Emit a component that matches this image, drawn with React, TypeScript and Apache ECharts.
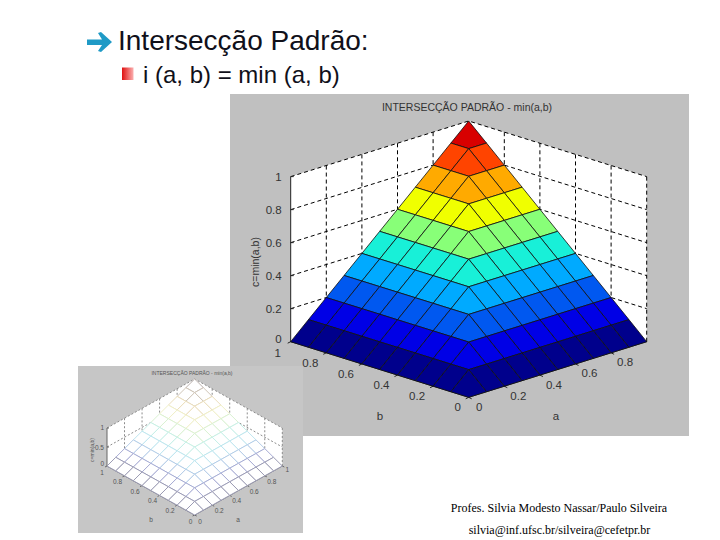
import React, { useEffect, useRef } from "react";
import * as echarts from "echarts";

const gridValues = [0, 0.1, 0.2, 0.3, 0.4, 0.5, 0.6, 0.7, 0.8, 0.9, 1];
const surfaceZ = [
  [0, 0, 0, 0, 0, 0, 0, 0, 0, 0, 0],
  [0, 0.1, 0.1, 0.1, 0.1, 0.1, 0.1, 0.1, 0.1, 0.1, 0.1],
  [0, 0.1, 0.2, 0.2, 0.2, 0.2, 0.2, 0.2, 0.2, 0.2, 0.2],
  [0, 0.1, 0.2, 0.3, 0.3, 0.3, 0.3, 0.3, 0.3, 0.3, 0.3],
  [0, 0.1, 0.2, 0.3, 0.4, 0.4, 0.4, 0.4, 0.4, 0.4, 0.4],
  [0, 0.1, 0.2, 0.3, 0.4, 0.5, 0.5, 0.5, 0.5, 0.5, 0.5],
  [0, 0.1, 0.2, 0.3, 0.4, 0.5, 0.6, 0.6, 0.6, 0.6, 0.6],
  [0, 0.1, 0.2, 0.3, 0.4, 0.5, 0.6, 0.7, 0.7, 0.7, 0.7],
  [0, 0.1, 0.2, 0.3, 0.4, 0.5, 0.6, 0.7, 0.8, 0.8, 0.8],
  [0, 0.1, 0.2, 0.3, 0.4, 0.5, 0.6, 0.7, 0.8, 0.9, 0.9],
  [0, 0.1, 0.2, 0.3, 0.4, 0.5, 0.6, 0.7, 0.8, 0.9, 1],
];
const bandColors = ["#00008c", "#0000e6", "#0058f0", "#00aaff", "#18f0d8", "#88ff78", "#f0ff00", "#ffaa00", "#ff4400", "#d80000"];
const meshColors = ["#9c9cb4", "#a8acd4", "#b4cce8", "#bee6f0", "#c6f0e8", "#daf2d2", "#f0f0c8", "#ecdfbc", "#d0c6b8", "#bcb2ae"];

const mainZTicks = [0, 0.2, 0.4, 0.6, 0.8, 1];
const mainZLabels = ["0", "0.2", "0.4", "0.6", "0.8", "1"];
const mainWallTicks = [0.2, 0.4, 0.6, 0.8];
const mainBLabels = [[1, "1"], [0.8, "0.8"], [0.6, "0.6"], [0.4, "0.4"], [0.2, "0.2"], [0, "0"]];
const mainALabels = [[0.8, "0.8"], [0.6, "0.6"], [0.4, "0.4"], [0.2, "0.2"], [0, "0"]];
const smallZTicks = [0, 0.5, 1];
const smallZLabels = ["0", "0.5", "1"];
const smallBLabels = [[1, "1"], [0.8, "0.8"], [0.6, "0.6"], [0.4, "0.4"], [0.2, "0.2"], [0, "0"]];
const smallALabels = [[1, "1"], [0.8, "0.8"], [0.6, "0.6"], [0.4, "0.4"], [0.2, "0.2"], [0, "0"]];

const plotTitle = "INTERSECÇÃO PADRÃO - min(a,b)";
const zName = "c=min(a,b)";

const MAIN_K = 0.337;
const SMALL_K = 1.289;

const cells: number[][] = [];
for (let i = 9; i >= 0; i--) for (let j = 9; j >= 0; j--) cells.push([i, j]);

function makeSurface(k: number, idx: number, z: number, mesh: boolean) {
  return {
    type: "custom",
    coordinateSystem: "cartesian2d",
    xAxisIndex: idx,
    yAxisIndex: idx,
    z,
    silent: true,
    clip: false,
    data: cells,
    renderItem: (_p: any, api: any) => {
      const i = api.value(0);
      const j = api.value(1);
      const corner = (ii: number, jj: number) => {
        const a = gridValues[ii];
        const b = gridValues[jj];
        return api.coord([a - b, (a + b) * k + surfaceZ[ii][jj]]);
      };
      const band = Math.round(surfaceZ[i][j] * 10);
      return {
        type: "polygon",
        shape: { points: [corner(i, j), corner(i + 1, j), corner(i + 1, j + 1), corner(i, j + 1)] },
        style: mesh
          ? { fill: "#ffffff", stroke: meshColors[band], lineWidth: 1 }
          : { fill: bandColors[band], stroke: "#101010", lineWidth: 1, strokeOpacity: 0.8 },
      };
    },
  };
}

function makeFrame(cfg: any) {
  const { k, idx, z } = cfg;
  return {
    type: "custom",
    coordinateSystem: "cartesian2d",
    xAxisIndex: idx,
    yAxisIndex: idx,
    z,
    silent: true,
    clip: false,
    data: [[0]],
    renderItem: (_p: any, api: any) => {
      const P = (a: number, b: number, c: number) => api.coord([a - b, (a + b) * k + c]);
      const kids: any[] = [];
      if (cfg.panel) kids.push({ type: "rect", shape: cfg.panel, style: { fill: cfg.panelFill } });
      kids.push({
        type: "polygon",
        shape: { points: [P(0, 1, 0), P(0, 1, 1), P(1, 1, 1), P(1, 0, 1), P(1, 0, 0), P(0, 0, 0)] },
        style: { fill: "#ffffff" },
      });
      const dash = { stroke: cfg.dashColor, lineWidth: cfg.dashWidth, lineDash: cfg.dash, fill: "none" };
      cfg.zTicks.forEach((t: number) => {
        kids.push({ type: "polyline", shape: { points: [P(0, 1, t), P(1, 1, t), P(1, 0, t)] }, style: dash });
      });
      cfg.wallTicks.forEach((t: number) => {
        kids.push({ type: "polyline", shape: { points: [P(t, 1, 0), P(t, 1, 1)] }, style: dash });
        kids.push({ type: "polyline", shape: { points: [P(1, t, 0), P(1, t, 1)] }, style: dash });
      });
      kids.push({ type: "polyline", shape: { points: [P(1, 0, 0), P(1, 0, 1)] }, style: dash });
      const solid = { stroke: cfg.axisColor, lineWidth: 1, fill: "none" };
      kids.push({ type: "polyline", shape: { points: [P(0, 1, 0), P(0, 1, 1)] }, style: solid });
      kids.push({ type: "polyline", shape: { points: [P(0, 1, 0), P(0, 0, 0), P(1, 0, 0)] }, style: solid });
      const text = (s: string, x: number, y: number, align = "center", font = cfg.tickFont, fill = cfg.textColor) => ({
        type: "text",
        style: { text: s, x, y, align, verticalAlign: "middle", font, fill },
      });
      cfg.zTicks.forEach((t: number, n: number) => {
        const p = P(0, 1, t);
        kids.push({ type: "polyline", shape: { points: [p, [p[0] + cfg.tickLen, p[1]]] }, style: solid });
        kids.push(text(cfg.zLabels[n], p[0] + cfg.zOffset, p[1] + (t === 0 ? cfg.zZeroDy : 0), "right"));
      });
      const offsetFor = (t: number, base: number[], zero: number[], one: number[]) => (t === 0 ? zero : t === 1 ? one : base);
      cfg.bLabels.forEach(([t, s]: any) => {
        const p = P(0, t, 0);
        const o = offsetFor(t, cfg.bOffset, cfg.bZero, cfg.bOne);
        kids.push({ type: "polyline", shape: { points: [p, [p[0] - cfg.tickLen, p[1] + cfg.tickLen / 2]] }, style: solid });
        kids.push(text(s, p[0] + o[0], p[1] + o[1]));
      });
      cfg.aLabels.forEach(([t, s]: any) => {
        const p = P(t, 0, 0);
        const o = offsetFor(t, cfg.aOffset, cfg.aZero, cfg.aOne);
        kids.push({ type: "polyline", shape: { points: [p, [p[0] + cfg.tickLen, p[1] + cfg.tickLen / 2]] }, style: solid });
        kids.push(text(s, p[0] + o[0], p[1] + o[1]));
      });
      kids.push(text(plotTitle, cfg.titlePos[0], cfg.titlePos[1], "center", cfg.titleFont));
      kids.push(text("b", cfg.bName[0], cfg.bName[1]));
      kids.push(text("a", cfg.aName[0], cfg.aName[1]));
      kids.push({
        type: "text",
        x: cfg.zNamePos[0],
        y: cfg.zNamePos[1],
        rotation: Math.PI / 2,
        style: { text: zName, x: 0, y: 0, align: "center", verticalAlign: "middle", font: cfg.zNameFont, fill: cfg.textColor },
      });
      return { type: "group", children: kids };
    },
  };
}

const mainFrameCfg = {
  k: MAIN_K, idx: 0, z: 2, zTicks: mainZTicks, zLabels: mainZLabels, wallTicks: mainWallTicks,
  bLabels: mainBLabels, aLabels: mainALabels, dash: [4, 3], dashColor: "#000000", dashWidth: 1, axisColor: "#222222",
  textColor: "#333333", tickFont: "11.5px 'Liberation Sans'", titleFont: "10.5px 'Liberation Sans'",
  zNameFont: "10.5px 'Liberation Sans'", tickLen: 3, zOffset: -9, zZeroDy: -2.5, bOffset: [-16, 10], bZero: [-11, 9.5], bOne: [-13, 11.5],
  aOffset: [14, 9.5], aZero: [10.6, 9.5], aOne: [14, 9],
  titlePos: [467, 107], bName: [380, 416], aName: [556, 416], zNamePos: [255, 262],
};
const smallFrameCfg = {
  k: SMALL_K, idx: 1, z: 4, panel: { x: 78, y: 366, width: 225, height: 167 }, panelFill: "#c6c6c6",
  zTicks: smallZTicks, zLabels: smallZLabels, wallTicks: mainWallTicks,
  bLabels: smallBLabels, aLabels: smallALabels, dash: [2, 2], dashColor: "#8c8c8c", dashWidth: 1, axisColor: "#666666",
  textColor: "#555555", tickFont: "6.5px 'Liberation Sans'", titleFont: "5px 'Liberation Sans'",
  zNameFont: "5px 'Liberation Sans'", tickLen: 2, zOffset: -3, zZeroDy: -2.5, bOffset: [-7, 5.5], bZero: [-4, 6], bOne: [-5, 6],
  aOffset: [7, 5.5], aZero: [5.5, 6], aOne: [5, 3],
  titlePos: [192, 373], bName: [151, 519], aName: [238, 519], zNamePos: [92, 450],
};

function buildOption() {
  return {
    animation: false,
    backgroundColor: "#ffffff",
    grid: [
      { left: 290.7, top: 121, width: 356, height: 276.3 },
      { left: 107, top: 379, width: 175.3, height: 136 },
    ],
    xAxis: [
      { type: "value", gridIndex: 0, min: -1, max: 1, show: false },
      { type: "value", gridIndex: 1, min: -1, max: 1, show: false },
    ],
    yAxis: [
      { type: "value", gridIndex: 0, min: 0, max: 2 * MAIN_K + 1, show: false },
      { type: "value", gridIndex: 1, min: 0, max: 2 * SMALL_K + 1, show: false },
    ],
    graphic: [
      { type: "rect", shape: { x: 230, y: 94, width: 459, height: 342 }, style: { fill: "#c0c0c0" } },
      {
        type: "polygon",
        shape: { points: [[87, 39.5], [102, 39.5], [98, 33], [101, 32], [112, 42], [101, 52], [98, 51], [102, 45], [87, 45]] },
        style: { fill: "#1f9ac6" },
      },
      {
        type: "text",
        style: { text: "Intersecção Padrão:", x: 118, y: 40, align: "left", verticalAlign: "middle", font: "28px 'Liberation Sans'", fill: "#10101a" },
      },
      {
        type: "rect",
        shape: { x: 122, y: 67.5, width: 11.5, height: 12.5 },
        style: {
          fill: new echarts.graphic.LinearGradient(0, 0, 1, 0, [
            { offset: 0, color: "#e01010" },
            { offset: 1, color: "#fbb0b0" },
          ]),
        },
      },
      {
        type: "text",
        style: { text: "i (a, b) = min (a, b)", x: 143, y: 74, align: "left", verticalAlign: "middle", font: "24px 'Liberation Sans'", fill: "#10101a" },
      },
      {
        type: "text",
        style: { text: "Profes. Silvia Modesto Nassar/Paulo Silveira", x: 559, y: 508, align: "center", verticalAlign: "middle", font: "12px 'Liberation Serif'", fill: "#000000" },
      },
      {
        type: "text",
        style: { text: "silvia@inf.ufsc.br/silveira@cefetpr.br", x: 559.5, y: 530, align: "center", verticalAlign: "middle", font: "12px 'Liberation Serif'", fill: "#000000" },
      },
    ],
    series: [
      makeFrame(mainFrameCfg),
      makeSurface(MAIN_K, 0, 3, false),
      makeFrame(smallFrameCfg),
      makeSurface(SMALL_K, 1, 5, true),
    ],
  };
}

export default function App() {
  const ref = useRef<HTMLDivElement>(null);
  useEffect(() => {
    const chart = echarts.init(ref.current!, undefined, { renderer: "svg" });
    chart.setOption(buildOption() as any);
    return () => chart.dispose();
  }, []);
  return <div ref={ref} style={{ position: "absolute", left: 0, top: 0, width: 720, height: 540 }} />;
}
